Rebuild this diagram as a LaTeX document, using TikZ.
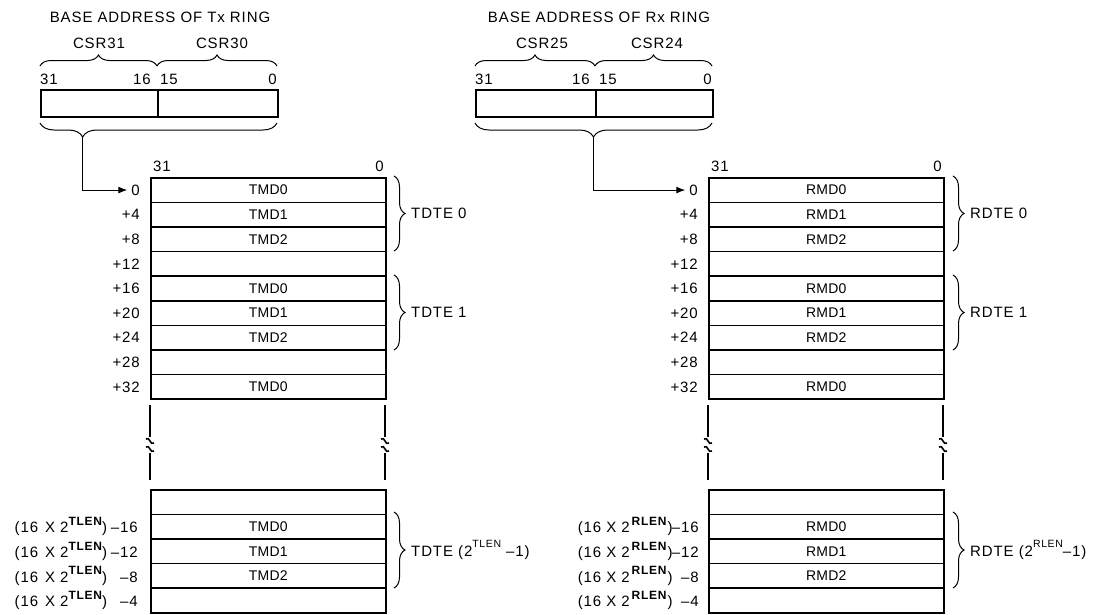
\documentclass[tikz,border=0pt]{standalone}
\usepackage{fontspec}
\setmainfont{Liberation Sans}[LetterSpace=6]
\newfontfamily\cellfont{Liberation Sans}[LetterSpace=2]
\usetikzlibrary{decorations.pathreplacing,arrows.meta}
\newcommand{\supb}[1]{\raisebox{0.5em}{\fontsize{12}{12}\selectfont\bfseries #1}}
\newcommand{\supn}[1]{\raisebox{0.55em}{\fontsize{10.5}{10.5}\selectfont #1}}
\newcommand{\offT}[2]{(16\hspace{7pt}X\hspace{5pt}2\supb{TLEN})\makebox[#1][r]{\textendash #2}}
\newcommand{\offR}[2]{(16 X 2\hspace{2pt}\supb{RLEN}\hspace{1pt})\makebox[#1][r]{\textendash #2}}
\begin{document}
\begin{tikzpicture}[x=1pt,y=-1pt,
  font=\fontsize{15}{17}\selectfont,
  every node/.style={inner sep=0pt},
  cell/.style={draw,line width=1.5pt,minimum width=235pt,minimum height=24.6pt,anchor=north west,
    font=\cellfont\fontsize{14}{16}\selectfont},
  reg/.style={draw,line width=1.5pt,minimum height=27pt,anchor=north west},
  brc/.style={decorate,decoration={brace,amplitude=#1},line width=1pt},
  brc/.default=11pt,
  conn/.style={line width=1pt,-{Latex[length=9pt,width=7pt]},shorten >=4pt},
  vl/.style={line width=1.5pt},
  sq/.style={line width=1.6pt}]
\useasboundingbox (0,0) rectangle (1108,614);

% headers
\node (hT) at (160,17) {BASE ADDRESS OF Tx RING};
\node (hR) at (599,17) {BASE ADDRESS OF Rx RING};
\node (c31) at (99,43) {CSR31};
\node (c30) at (222,43) {CSR30};
\node (c25) at (542,43) {CSR25};
\node (c24) at (657,43) {CSR24};
\draw[brc=11pt] (40,66) -- (157,66);
\draw[brc=11pt] (157,66) -- (277,66);
\draw[brc=11pt] (475,66) -- (595,66);
\draw[brc=11pt] (595,66) -- (712,66);

% bit numbers
\node[anchor=west] (b31) at (40,79) {31};
\node[anchor=east] (b16) at (151,79) {16};
\node[anchor=west] (b15) at (160,79) {15};
\node[anchor=east] (b0) at (277,79) {0};
\node[anchor=west] (rb31) at (475,79) {31};
\node[anchor=east] (rb16) at (590,79) {16};
\node[anchor=west] (rb15) at (599,79) {15};
\node[anchor=east] (rb0) at (712,79) {0};

% registers
\node[reg,minimum width=117pt] (R31) at (40,89) {};
\node[reg,minimum width=120pt] (R30) at (157,89) {};
\node[reg,minimum width=120pt] (R25) at (475,89) {};
\node[reg,minimum width=117pt] (R24) at (595,89) {};

% lower braces
\draw[decorate,decoration={brace,amplitude=14pt,aspect=0.82},line width=1pt] (277,123) -- (40,123);
\draw[decorate,decoration={brace,amplitude=14pt,aspect=0.5},line width=1pt] (712,123) -- (475,123);
\coordinate (tipT) at (82.5,137);
\coordinate (tipR) at (593.5,137);

% rings
\foreach \s/\dx in {T/0,R/558} {
  \node[anchor=south west] (\s h31) at (153+\dx,172) {31};
  \node[anchor=south east] (\s h0) at (384+\dx,172) {0};
  \foreach \t [count=\i from 0] in {\s MD0,\s MD1,\s MD2,{},\s MD0,\s MD1,\s MD2,{},\s MD0} {
    \node[cell] (\s L\i) at (150+\dx,177+24.6*\i) {\t};
  }
  \foreach \o [count=\i from 0] in {0,+4,+8,+12,+16,+20,+24,+28,+32} {
    \node[anchor=east] (\s O\i) at ([xshift=-10pt]\s L\i.west) {\o};
  }
  \foreach \t [count=\i from 0] in {{},\s MD0,\s MD1,\s MD2,{}} {
    \node[cell] (\s B\i) at (150+\dx,489+24.6*\i) {\t};
  }
}

% breaks
\foreach \x in {150,385,708,943} {
  \draw[vl] (\x,405) -- (\x,437);
  \draw[sq] (\x-4,439) .. controls (\x,436) and (\x,446) .. (\x+4,443);
  \draw[sq] (\x-4,447) .. controls (\x,444) and (\x,454) .. (\x+4,451);
  \draw[vl] (\x,453) -- (\x,480);
}

% bottom offsets
\node[anchor=east] (TX1) at ([xshift=-12pt]TB1.west) {\offT{2.05em}{16}};
\node[anchor=east] (TX2) at ([xshift=-12pt]TB2.west) {\offT{2.05em}{12}};
\node[anchor=east] (TX3) at ([xshift=-12pt]TB3.west) {\offT{2.05em}{8}};
\node[anchor=east] (TX4) at ([xshift=-12pt]TB4.west) {\offT{2.05em}{4}};
\node[anchor=east] (RX1) at ([xshift=-9pt]RB1.west) {\offR{1.75em}{16}};
\node[anchor=east] (RX2) at ([xshift=-9pt]RB2.west) {\offR{1.75em}{12}};
\node[anchor=east] (RX3) at ([xshift=-9pt]RB3.west) {\offR{1.75em}{8}};
\node[anchor=east] (RX4) at ([xshift=-9pt]RB4.west) {\offR{1.75em}{4}};

% descriptor braces
\draw[brc] (394,176) -- (394,251);
\node[anchor=west] (TD0) at (411,213) {TDTE 0};
\draw[brc] (394,275) -- (394,350);
\node[anchor=west] (TD1) at (411,312) {TDTE 1};
\draw[brc] (394,512) -- (394,588);
\node[anchor=west] (TDn) at (411,550) {TDTE (2\supn{TLEN} \textendash 1)};
\draw[brc] (953,176) -- (953,251);
\node[anchor=west] (RD0) at (970,213) {RDTE 0};
\draw[brc] (953,275) -- (953,350);
\node[anchor=west] (RD1) at (970,312) {RDTE 1};
\draw[brc] (953,512) -- (953,588);
\node[anchor=west] (RDn) at (970,550) {RDTE (2\supn{RLEN}\textendash 1)};

% connectors
\draw[conn] (tipT) |- (TO0.west);
\draw[conn] (tipR) |- (RO0.west);
\end{tikzpicture}
\end{document}
